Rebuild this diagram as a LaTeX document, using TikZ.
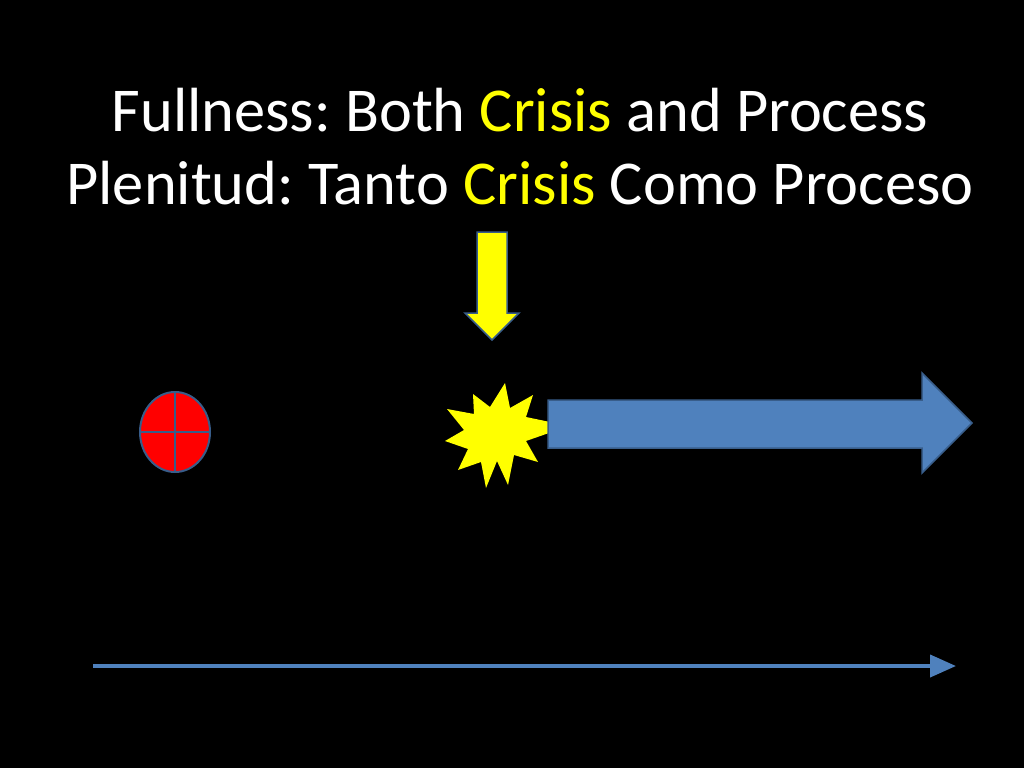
\documentclass[tikz,border=0pt]{standalone}
\usepackage{fontspec}
\setmainfont{Carlito}
\usetikzlibrary{arrows.meta}
\definecolor{bl}{HTML}{4F81BD}
\definecolor{bld}{HTML}{385D8A}
\definecolor{yl}{HTML}{FFFF00}
\frenchspacing
\begin{document}
\begin{tikzpicture}[x=1pt,y=-1pt,
  ttl/.style={text=white,font=\fontsize{62.4}{70}\selectfont,inner sep=0}]
\fill[black] (0,0) rectangle (1024,768);
\useasboundingbox (0,0) rectangle (1024,768);
\node[ttl] (t1) at (520,110) {Fullness: Both \textcolor{yl}{Crisis} and Process};
\node[ttl] (t2) at (520,183) {Plenitud: Tanto \textcolor{yl}{Crisis} Como Proceso};
% down arrow
\draw[fill=yl,draw=bld,line width=1.5pt] (477,232)--(507,232)--(507,313)--(519,313)--(492,340)--(465,313)--(477,313)--cycle;
% circle
\draw[fill=red,draw=bld,line width=2pt] (175,432) ellipse [x radius=35,y radius=40];
\draw[bld,line width=2pt] (140,432)--(210,432) (175,392)--(175,472);
% starburst
\fill[yl] (549,433)--(526,441)--(538,462)--(514,455)--(508,485)--(497,461)--(486,488)--(481,462)--(458,470)--(468,449)--(445,441)--(464,430)--(447,409)--(474,414)--(473,394)--(490,407)--(505,383)--(510,408)--(533,395)--(526,417)--(550,422)--cycle;
% big arrow
\draw[fill=bl,draw=bld,line width=1.5pt] (548,400)--(922,400)--(922,373)--(972,423)--(922,473)--(922,448)--(548,448)--cycle;
% bottom arrow
\coordinate (a) at (93,666);
\coordinate (b) at (956,666);
\draw[bl,line width=4pt,-{Triangle[length=26pt,width=22pt]}] (a)--(b);
\end{tikzpicture}
\end{document}
